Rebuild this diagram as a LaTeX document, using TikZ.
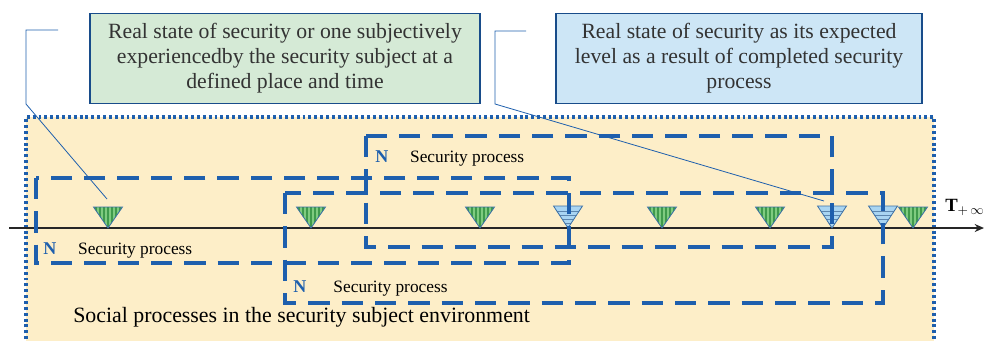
\documentclass[tikz,border=0pt]{standalone}
\usepackage{fontspec}
\setmainfont{Liberation Serif}
\usetikzlibrary{positioning, arrows.meta}

\definecolor{envfill}{HTML}{FDEEC8}
\definecolor{procblue}{HTML}{1E5FAD}
\definecolor{notegreen}{HTML}{D5EAD6}
\definecolor{noteblue}{HTML}{CDE6F6}
\definecolor{trigreen}{HTML}{7FCB80}
\definecolor{tristripe}{HTML}{3F9A4C}
\definecolor{triblue}{HTML}{A9D5F2}
\definecolor{trihatch}{HTML}{5D86AE}
\definecolor{triline}{HTML}{3B6FA6}

\tikzset{
  notebox/.style={draw=procblue!80!black, line width=0.8pt, align=center, text=black!80,
                  font=\fontsize{16.3}{18.8}\selectfont, minimum height=68pt, inner sep=2pt},
  procbox/.style={draw=procblue, line width=2.4pt, dash pattern=on 16pt off 9pt},
  proclabel/.style={font=\fontsize{13}{14}\selectfont, inner sep=0pt},
  nmark/.style={font=\fontsize{13.5}{14}\selectfont\bfseries, text=procblue, inner sep=0pt},
  callout/.style={draw=procblue, line width=0.6pt},
}

% state marks on the time axis: green = experienced, blue = expected
\newcommand{\realstate}[2]{%
  \coordinate (#1) at (#2,228);
  \begin{scope}
    \clip (#1) -- ++(-14.5,-21) -- ++(29,0) -- cycle;
    \fill[trigreen] (#1) ++(-15,-22) rectangle ++(30,22);
    \foreach \s in {-12,-8,...,12}
      \draw[tristripe, line width=1.3pt] (#1) ++(\s,0) -- ++(0,-22);
  \end{scope}
  \draw[triline, line width=0.6pt] (#1) -- ++(-14.5,-21) -- ++(29,0) -- cycle;
}
\newcommand{\expectedstate}[2]{%
  \coordinate (#1) at (#2,228);
  \begin{scope}
    \clip (#1) -- ++(-14.5,-22) -- ++(29,0) -- cycle;
    \fill[triblue] (#1) ++(-15,-23) rectangle ++(30,23);
    \foreach \s in {5,9,...,17}
      \draw[trihatch, line width=0.7pt] (#1) ++(-15,-\s) -- ++(30,0);
  \end{scope}
  \draw[triline, line width=0.6pt] (#1) -- ++(-14.5,-22) -- ++(29,0) -- cycle;
}

\begin{document}
\begin{tikzpicture}[x=0.75pt, y=-0.75pt]
\useasboundingbox (0,0) rectangle (984,340);

% environment of the security subject
\fill[envfill] (26,117) rectangle (934,345);
\draw[procblue, line width=2.4pt, dash pattern=on 2.2pt off 2.2pt] (26,345) -- (26,117) -- (934,117) -- (934,345);

% time axis
\coordinate (tstart) at (9,228);
\coordinate (tend) at (984,228);
\draw[line width=2pt, black!85, -{Stealth[length=7pt, width=6pt]}] (tstart) -- (tend);
\node[anchor=west, font=\fontsize{14}{16}\selectfont, inner sep=0pt] (tinf) at (945,207)
  {\bfseries T$_{+\,\infty}$};

% states
\realstate{g1}{108}
\realstate{g2}{311}
\realstate{g3}{480}
\expectedstate{b1}{568}
\realstate{g4}{662}
\realstate{g5}{770}
\expectedstate{b2}{832}
\expectedstate{b3}{883}
\realstate{g6}{913}

% security processes
\draw[procbox] (36,178) rectangle (569,263);
\draw[procbox] (366,136) rectangle (832,247);
\draw[procbox] (285,193) rectangle (883,303);

\node[nmark, anchor=west] (n1) at (43,249) {N};
\node[proclabel, base right=16pt of n1] (p1) {Security process};
\node[nmark, anchor=west] (n2) at (375,157) {N};
\node[proclabel, base right=16pt of n2] (p2) {Security process};
\node[nmark, anchor=west] (n3) at (293,287) {N};
\node[proclabel, base right=20pt of n3] (p3) {Security process};

\node[anchor=west, font=\fontsize{16.4}{18}\selectfont, inner sep=0pt] (env) at (73,317)
  {Social processes in the security subject environment};

% notes
\node[notebox, fill=notegreen, minimum width=292.5pt] (experienced) at (285,58.5)
  {Real state of security or one subjectively\\experiencedby the security subject at a\\defined place and time};
\node[notebox, fill=noteblue, minimum width=274.5pt] (expected) at (739,58.5)
  {Real state of security as its expected\\level as a result of completed security\\process};

% callouts
\coordinate (lnote) at (58,30);
\coordinate (lbend) at (26,30);
\coordinate (lknee) at (26,104);
\coordinate (lend) at (107,199);
\draw[callout] (lnote) -- (lbend) -- (lknee) -- (lend);
\coordinate (rnote) at (526,31);
\coordinate (rbend) at (495,31);
\coordinate (rknee) at (495,104);
\coordinate (rend) at (824,201);
\draw[callout] (rnote) -- (rbend) -- (rknee) -- (rend);
\end{tikzpicture}
\end{document}
